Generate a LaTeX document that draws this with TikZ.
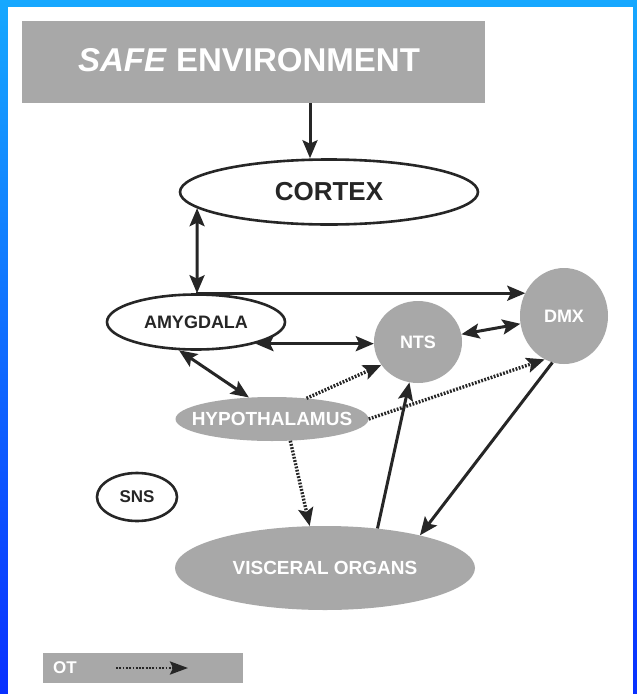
\documentclass[tikz,border=0pt]{standalone}
\usepackage{fontspec}
\setmainfont{Liberation Sans}
\usetikzlibrary{shapes.geometric,arrows.meta}
\definecolor{framelight}{RGB}{22,168,255}
\definecolor{framedeep}{RGB}{8,48,255}
\definecolor{panelgray}{RGB}{168,168,168}
\definecolor{inkgray}{RGB}{38,38,38}
\begin{document}
\begin{tikzpicture}[x=1pt,y=-1pt,
  oval/.style={ellipse, draw=inkgray, line width=2.6pt, fill=white, inner sep=0pt},
  grayoval/.style={ellipse, fill=panelgray, inner sep=0pt},
  lbl/.style={font=\fontsize{#1}{#1}\selectfont\bfseries},
  head/.tip={Stealth[length=18pt,width=15pt,inset=3.5pt]},
  link/.style={draw=inkgray, line width=3pt, -head},
  twoway/.style={draw=inkgray, line width=3pt, head-head},
  dotlink/.style={draw=inkgray, line width=3.4pt, dash pattern=on 1.8pt off 1.5pt, -head},
]
% blue frame with a vertical gradient, white panel inside
\shade[top color=framelight, bottom color=framedeep] (0,0) rectangle (637,694);
\fill[white] (8,7) rectangle (633,694);
\useasboundingbox (0,0) rectangle (637,694);

% header box
\node[rectangle, fill=panelgray, minimum width=463pt, minimum height=82pt, inner sep=0pt] (env) at (253.5,62) {};
\node[text=white, lbl=33, inner sep=0pt] (envlabel) at (249,60) {\textit{SAFE} ENVIRONMENT};

% brain regions (shapes first, labels laid over their centres)
\node[oval, minimum width=298pt, minimum height=65pt] (cortex) at (329,192) {};
\node[oval, minimum width=178pt, minimum height=55pt] (amyg) at (196,322) {};
\node[grayoval, minimum width=88pt, minimum height=82pt] (nts) at (418,342) {};
\node[grayoval, minimum width=88pt, minimum height=96pt] (dmx) at (564,316) {};
\node[grayoval, minimum width=193pt, minimum height=44pt] (hypo) at (272,419) {};
\node[oval, minimum width=80pt, minimum height=48pt] (sns) at (137,497) {};
\node[grayoval, minimum width=300pt, minimum height=84pt] (visc) at (325,568) {};

\node[lbl=26, text=inkgray] (cortexlabel) at (cortex) {CORTEX};
\node[lbl=18, text=inkgray] (amyglabel) at (amyg) {AMYGDALA};
\node[lbl=18, text=white] (ntslabel) at (nts) {NTS};
\node[lbl=18, text=white] (dmxlabel) at (dmx) {DMX};
\node[lbl=19, text=white] (hypolabel) at (hypo) {HYPOTHALAMUS};
\node[lbl=17, text=inkgray] (snslabel) at (sns) {SNS};
\node[lbl=19, text=white] (visclabel) at (visc) {VISCERAL ORGANS};

% legend
\node[rectangle, fill=panelgray, minimum width=200pt, minimum height=30pt, inner sep=0pt] (legend) at (143,668) {};
\node[text=white, lbl=17, inner sep=0pt, anchor=west] (ot) at (53,668) {OT};
\coordinate (keystart) at (116,668);
\coordinate (keyend) at (188,668);

% solid connections
\draw[link] (env.south -| 310,0) -- (cortex.north -| 310,0);
\draw[twoway] (amyg.88) -- (cortex.187);
\draw[link] (amyg.north) -- (amyg.north -| dmx.149);
\draw[twoway] (amyg.-20) -- (amyg.-20 -| nts.west);
\draw[twoway] (nts) -- (dmx);
\draw[twoway] (amyg.239) -- (hypo.137);
\draw[link] (visc.37) -- (nts.258);
\draw[link] (dmx.256) -- (visc.19);

% dotted (OT) connections
\draw[dotlink] (hypo.31) -- (nts.212);
\draw[dotlink] (hypo.east) -- (dmx.246);
\draw[dotlink] (hypo.-50) -- (visc.110);
\draw[dotlink, line width=2.8pt, -{Stealth[length=18pt,width=13pt,inset=3pt]}] (keystart) -- (keyend);
\end{tikzpicture}
\end{document}
